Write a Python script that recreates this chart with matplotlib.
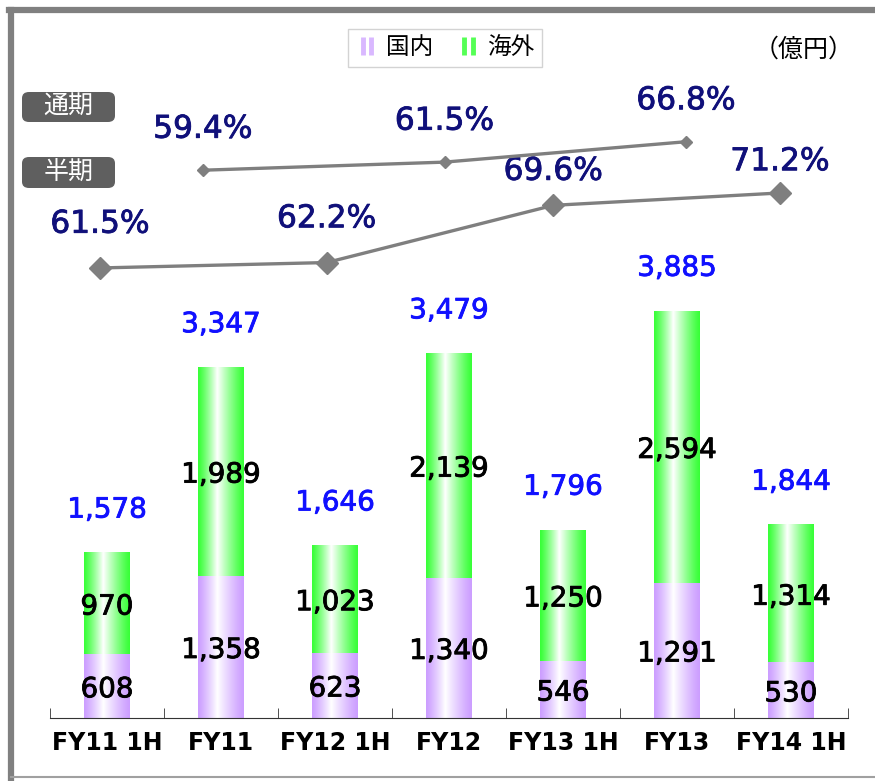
import numpy as np
import matplotlib.pyplot as plt
import matplotlib.patheffects as pe
from matplotlib.lines import Line2D
from matplotlib.patches import FancyBboxPatch
from matplotlib.legend_handler import HandlerTuple

# データ
categories = ["FY11 1H", "FY11", "FY12 1H", "FY12", "FY13 1H", "FY13", "FY14 1H"]
domestic = [608, 1358, 623, 1340, 546, 1291, 530]
overseas = [970, 1989, 1023, 2139, 1250, 2594, 1314]
totals = [1578, 3347, 1646, 3479, 1796, 3885, 1844]
half_ratio = [61.5, 62.2, 69.6, 71.2]
full_ratio = [59.4, 61.5, 66.8]

W, H = 875, 781
fig = plt.figure(figsize=(W / 100, H / 100), dpi=100)

def rect(x0, y_top, x1, y_bot):
    # ピクセル座標 -> figure座標
    return [x0 / W, 1 - y_bot / H, (x1 - x0) / W, (y_bot - y_top) / H]

cjk = ["Noto Sans CJK JP", "DejaVu Sans"]
purple = np.array([0.80, 0.62, 1.0])
green = np.array([0.22, 1.0, 0.22])

def gradient(c):
    t = np.linspace(0, 1, 64)
    m = np.where(t < 0.42, t / 0.42, (1 - t) / 0.58) ** 1.2
    g = c[None, :] * (1 - m[:, None]) + m[:, None]
    return g[None, :, :]

def thick(c):
    return [pe.withStroke(linewidth=0.6, foreground=c)]

# 棒グラフ
ax = fig.add_axes(rect(50, 30, 848, 718))
ymax = 688 / 0.1048
bw = 0.4
for i in range(len(categories)):
    segs = [(0, domestic[i], purple), (domestic[i], domestic[i] + overseas[i], green)]
    for y0, y1, c in segs:
        ax.imshow(gradient(c), extent=[i - bw / 2, i + bw / 2, y0, y1],
                  aspect="auto", interpolation="bilinear", zorder=2)
        ax.text(i, (y0 + y1) / 2 - 30, f"{y1 - y0:,}", ha="center", va="center",
                fontsize=20, color="black", zorder=3, path_effects=thick("black"))
    ax.annotate(f"{totals[i]:,}", (i, totals[i]), xytext=(0, 31), textcoords="offset points",
                ha="center", va="center", fontsize=20, color="#1010ff", path_effects=thick("#1010ff"))
ax.set_xlim(-0.5, len(categories) - 0.5)
ax.set_ylim(0, ymax)
ax.set_xticks(range(len(categories)))
ax.set_xticklabels(categories, fontsize=17, fontweight="bold")
ax.set_xticks(np.arange(-0.5, len(categories), 1), minor=True)
ax.tick_params(axis="x", which="major", length=0, pad=9)
ax.tick_params(axis="x", which="minor", direction="in", length=7, color="#333333")
ax.set_yticks([])
for s in ["top", "right", "left"]:
    ax.spines[s].set_visible(False)
ax.spines["bottom"].set_color("#333333")
ax.patch.set_alpha(0)

# 半期ライン
ax_h = fig.add_axes(rect(100, 163.6, 780, 318.2))
ax_h.plot(range(len(half_ratio)), half_ratio, color="#7f7f7f", lw=2.4, marker="D",
          markersize=11, clip_on=False)
half_off = [31.5, 31.5, 24.5, 22.5]
for i, v in enumerate(half_ratio):
    ax_h.annotate(f"{v}%", (i, v), xytext=(0, half_off[i]), textcoords="offset points",
                  ha="center", va="center", fontsize=22.5, color="#10107a",
                  path_effects=thick("#10107a"))
ax_h.set_xlim(0, len(half_ratio) - 1)
ax_h.set_ylim(55, 75)
ax_h.axis("off")

# 通期ライン
ax_f = fig.add_axes(rect(203, 129.4, 686, 206.4))
ax_f.plot(range(len(full_ratio)), full_ratio, color="#7f7f7f", lw=2.4, marker="D",
          markersize=6.5, clip_on=False)
for i, v in enumerate(full_ratio):
    ax_f.annotate(f"{v}%", (i, v), xytext=(0, 29.5), textcoords="offset points",
                  ha="center", va="center", fontsize=22.5, color="#10107a",
                  path_effects=thick("#10107a"))
ax_f.set_xlim(0, len(full_ratio) - 1)
ax_f.set_ylim(50, 70)
ax_f.axis("off")

# ラベルボックス
for label, yt, yb in [("通期", 92, 122), ("半期", 157, 188)]:
    r = rect(22, yt, 115, yb)
    fig.patches.append(FancyBboxPatch((r[0], r[1]), r[2], r[3], boxstyle="round,pad=0,rounding_size=0.008",
                                      transform=fig.transFigure, facecolor="#5f5f5f", edgecolor="none"))
    fig.text(r[0] + r[2] / 2, r[1] + r[3] / 2, label, family=cjk, color="white",
             fontsize=18, ha="center", va="center")

fig.text(854 / W, 1 - 50 / H, "（億円）", family=cjk, fontsize=18, ha="right", va="center")

# 凡例
h1 = (Line2D([], [], color="#d9b8ff", marker="|", ls="none", ms=13, mew=3.5),
      Line2D([], [], color="#d9b8ff", marker="|", ls="none", ms=13, mew=3.5))
h2 = (Line2D([], [], color="#55ff55", marker="|", ls="none", ms=13, mew=3.5),
      Line2D([], [], color="#55ff55", marker="|", ls="none", ms=13, mew=3.5))
leg = fig.legend([h1, h2], ["国内", "海外"], handler_map={tuple: HandlerTuple(ndivide=None, pad=-0.3)},
                 loc="center", bbox_to_anchor=(445 / W, 1 - 48 / H), ncol=2, frameon=True,
                 fancybox=False, edgecolor="#c8c8c8", prop={"family": cjk, "size": 17},
                 handlelength=1.0, handletextpad=0.3, columnspacing=1.0, borderpad=0.3)

# 外枠
fig.add_artist(Line2D([11 / W, 11 / W], [0, 1 - 10 / H], color="#808080", lw=4.5, transform=fig.transFigure))
fig.add_artist(Line2D([9 / W, 1], [1 - 10 / H, 1 - 10 / H], color="#808080", lw=4.5, transform=fig.transFigure))
fig.add_artist(Line2D([11 / W, 1], [1 - 777 / H, 1 - 777 / H], color="#a0a0a0", lw=1.5, transform=fig.transFigure))

fig.savefig("out.png", dpi=100)
